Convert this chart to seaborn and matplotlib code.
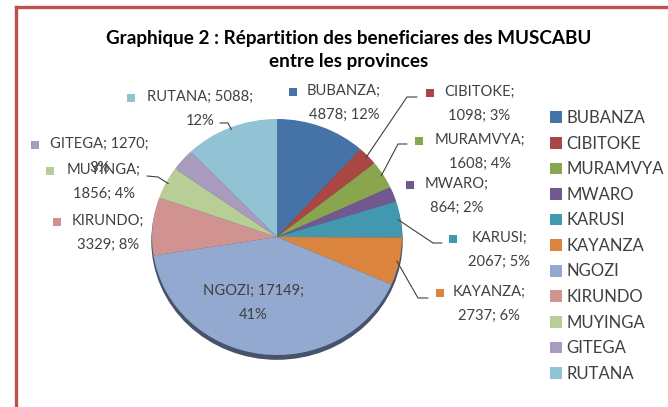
import matplotlib
matplotlib.use("Agg")
import matplotlib.pyplot as plt
from matplotlib.patches import Ellipse
import numpy as np
import seaborn as sns

# data
provinces = ["BUBANZA", "CIBITOKE", "MURAMVYA", "MWARO", "KARUSI", "KAYANZA",
             "NGOZI", "KIRUNDO", "MUYINGA", "GITEGA", "RUTANA"]
beneficiaires = [4878, 1098, 1608, 864, 2067, 2737, 17149, 3329, 1856, 1270, 5088]
pourcentages = ["12%", "3%", "4%", "2%", "5%", "6%", "41%", "8%", "4%", "3%", "12%"]
titre = "Graphique 2 : Répartition des beneficiares des MUSCABU\nentre les provinces"

colors = ["#4572A7", "#AA4643", "#89A54E", "#71588F", "#4198AF", "#DB843D",
          "#93A9CF", "#D19392", "#B9CD96", "#A99BBD", "#92C3D5"]

# label layout (pixels): key marker x, first line y, text left, value on first line?
label_pos = {
    "BUBANZA": (293, 92, 307, False),
    "CIBITOKE": (430, 93, 444, False),
    "MURAMVYA": (419, 141, 435, False),
    "MWARO": (410, 185, 425, False),
    "KARUSI": (453, 239, 468, False),
    "KAYANZA": (440, 293, 453, False),
    "NGOZI": (185, 292, 203, True),
    "KIRUNDO": (57, 222, 72, False),
    "MUYINGA": (50, 171, 67, False),
    "GITEGA": (35, 145, 50, True),
    "RUTANA": (131, 98, 147, True),
}
# leader lines: elbow and end near the label (pixels)
leaders = {
    "CIBITOKE": [(407, 97), (417, 97)],
    "MURAMVYA": [(398, 144), (407, 144)],
    "KARUSI": [(433, 243), (442, 243)],
    "KAYANZA": [(418, 298), (428, 298)],
    "RUTANA": [(228, 123), (220, 123)],
    "MUYINGA": [(158, 177), (147, 176)],
}

sns.set_theme(style="white")
plt.rcParams['font.family'] = ['Lato', 'DejaVu Sans']

W, H = 668, 407
fig = plt.figure(figsize=(W / 100, H / 100), dpi=100)

cx, cy, rx, ry = 277, 237, 125, 118
pie_ax = fig.add_axes([(cx - rx) / W, (H - cy - ry) / H, 2 * rx / W, 2 * ry / H])
pie_ax.set_zorder(1)
shadow = Ellipse((0, -0.035), 2.0, 2.0, color="#46536b", zorder=0, clip_on=False)
pie_ax.add_patch(shadow)
wedges, _ = pie_ax.pie(beneficiaires, colors=colors, startangle=90,
                       counterclock=False, radius=1,
                       wedgeprops=dict(linewidth=0))
pie_ax.set_aspect('auto')
pie_ax.set_xlim(-1, 1)
pie_ax.set_ylim(-1, 1)
pie_ax.axis('off')

ov = fig.add_axes([0, 0, 1, 1])
ov.set_zorder(2)
ov.set_xlim(0, W)
ov.set_ylim(H, 0)
ov.axis('off')

# red frame
border = "#C0504D"
ov.plot([15.5, 15.5], [H + 5, 6.5], color=border, lw=2.4, solid_capstyle='projecting')
ov.plot([15.5, W + 5], [6.5, 6.5], color=border, lw=2.4, solid_capstyle='projecting')

ov.text(349, 50, titre, ha='center', va='center', fontsize=13.6,
        fontweight='bold', color='black', linespacing=1.4)

txt_color = "#404040"
for w, name, val, pct, col in zip(wedges, provinces, beneficiaires, pourcentages, colors):
    mx, my, tx, wrap_late = label_pos[name]
    if wrap_late:
        s = f"{name}; {val};\n{pct}"
    else:
        s = f"{name};\n{val}; {pct}"
    ov.scatter([mx], [my], marker='s', s=34, color=col, linewidths=0)
    ov.text(tx, my - 8, s, ha='left', va='top', multialignment='center',
            fontsize=10.6, color=txt_color, linespacing=1.9)
    if name in leaders:
        mid = np.deg2rad((w.theta1 + w.theta2) / 2)
        px = cx + 0.98 * rx * np.cos(mid)
        py = cy - 0.98 * ry * np.sin(mid)
        pts = [(px, py)] + leaders[name]
        ov.plot([p[0] for p in pts], [p[1] for p in pts], color=txt_color, lw=0.8)

leg = fig.legend(wedges, provinces, loc='upper left',
                 bbox_to_anchor=(550 / W, 1 - 110 / H), frameon=False,
                 fontsize=12, handlelength=0.7, handleheight=0.7,
                 handletextpad=0.3, labelspacing=0.575, borderpad=0,
                 borderaxespad=0)
for t in leg.get_texts():
    t.set_color(txt_color)

fig.savefig("out.png", dpi=100)
